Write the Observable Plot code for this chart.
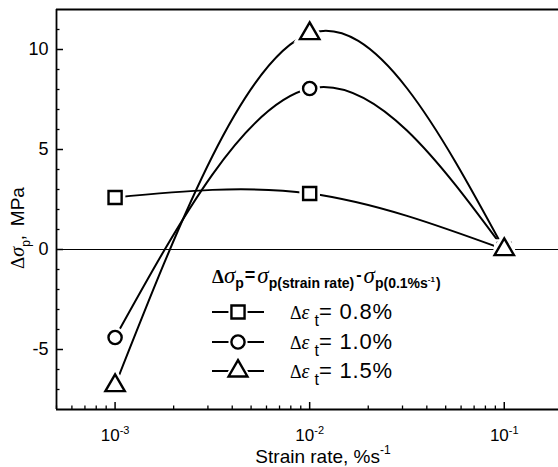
<!DOCTYPE html>
<html><head><meta charset="utf-8">
<script src="https://cdn.jsdelivr.net/npm/d3@7"></script>
<script src="https://cdn.jsdelivr.net/npm/@observablehq/plot@0.6"></script>
<style>
body{margin:0;background:#fff;overflow:hidden}
#chart{position:relative;width:558px;height:467px}
</style></head><body><div id="chart"></div>
<script>
// ---- data ----
const strainRate = [0.001, 0.01, 0.1];
const seriesNames = ["0.8%", "1.0%", "1.5%"];
const seriesSymbols = ["square", "circle", "triangle"];
const dSigma08 = [2.6, 2.8, 0.0];
const dSigma10 = [-4.4, 8.05, 0.0];
const dSigma15 = [-6.8, 10.8, 0.0];
const xDomain = [0.0005, 0.19];
const yDomain = [-8, 12];
const xMajor = [0.001, 0.01, 0.1];
const xMajorLabels = ["-3", "-2", "-1"];
const xMinor = [0.0005, 0.0006, 0.0007, 0.0008, 0.0009,
  0.002, 0.003, 0.004, 0.005, 0.006, 0.007, 0.008, 0.009,
  0.02, 0.03, 0.04, 0.05, 0.06, 0.07, 0.08, 0.09];
const yMajor = [-5, 0, 5, 10];
const yMinor = [-7, -6, -4, -3, -2, -1, 1, 2, 3, 4, 6, 7, 8, 9, 11];

const valuesBySeries = [dSigma08, dSigma10, dSigma15];
const rows = seriesNames.flatMap((s, j) => strainRate.map((x, i) => ({series: s, x, y: valuesBySeries[j][i]})));
const markerR = {"0.8%": 7.4, "1.0%": 6.6, "1.5%": 7.2};

const SANS = "Liberation Sans, Arial, sans-serif";
const SERIF = "Liberation Serif, Times New Roman, serif";

const dotMarks = seriesNames.flatMap(s => [
  Plot.dot(rows.filter(d => d.series === s), {x: "x", y: "y", symbol: "series", r: markerR[s], fill: "#fff", stroke: "#fff", strokeWidth: 7.5}),
  Plot.dot(rows.filter(d => d.series === s), {x: "x", y: "y", symbol: "series", r: markerR[s], fill: "#fff", stroke: "#000", strokeWidth: 2.4})
]);

const plot = Plot.plot({
  width: 558, height: 467,
  marginLeft: 56, marginRight: 0, marginTop: 9, marginBottom: 58,
  style: {fontFamily: SANS, fontSize: "17px", color: "#000", background: "#fff"},
  x: {type: "log", domain: xDomain},
  y: {domain: yDomain},
  symbol: {domain: seriesNames, range: seriesSymbols},
  marks: [
    Plot.ruleY([0], {stroke: "#000", strokeWidth: 1.2}),
    Plot.line(rows, {x: "x", y: "y", z: "series", curve: "natural", stroke: "#000", strokeWidth: 2}),
    ...dotMarks,
    Plot.ruleY([yDomain[1]], {stroke: "#000", strokeWidth: 1.8}),
    Plot.ruleY([yDomain[0]], {stroke: "#000", strokeWidth: 1.8}),
    Plot.ruleX([xDomain[0]], {stroke: "#000", strokeWidth: 1.8}),
    Plot.axisX({ticks: xMinor, tickSize: -3.5, fill: "none", tickFormat: () => "", label: null, strokeWidth: 1.3}),
    Plot.axisX({ticks: xMajor, tickSize: -7, fill: "none", tickFormat: () => "", label: null, strokeWidth: 1.5}),
    Plot.axisX({ticks: xMajor, tickSize: 0, tickPadding: 19, tickFormat: d => "10|" + xMajorLabels[xMajor.indexOf(d)], label: null, fontSize: 17}),
    Plot.axisY({ticks: yMinor, tickSize: -3.5, fill: "none", tickFormat: () => "", label: null, strokeWidth: 1.3}),
    Plot.axisY({ticks: yMajor, tickSize: -7, fill: "none", tickFormat: () => "", label: null, strokeWidth: 1.5}),
    Plot.axisY({ticks: yMajor, tickSize: 0, tickPadding: 8, tickFormat: d => String(d), label: null, fontSize: 18})
  ]
});
document.getElementById("chart").appendChild(plot);

const svg = d3.select(plot);

// superscripts in x tick labels
svg.selectAll('g[aria-label="x-axis tick label"] text').each(function() {
  const parts = this.textContent.split("|");
  const t = d3.select(this);
  t.text(null);
  t.append("tspan").text(parts[0]);
  t.append("tspan").text(parts[1]).attr("font-size", 11).attr("dy", "-0.6em");
});

function richText(parent, x, y, segs, attrs = {}) {
  const t = parent.append("text").attr("x", x).attr("y", y).attr("fill", "#000").attr("text-anchor", "start");
  for (const k in attrs) t.attr(k, attrs[k]);
  let cur = 0;
  for (const s of segs) {
    const off = -(s.shift || 0);
    const ts = t.append("tspan").text(s.t)
      .attr("dy", off - cur)
      .attr("font-family", s.f || SANS)
      .attr("font-size", s.s || 16)
      .attr("font-weight", s.w || "normal")
      .attr("font-style", s.i ? "italic" : "normal");
    if (s.dx) ts.attr("dx", s.dx);
    if (s.ls) ts.attr("letter-spacing", s.ls);
    cur = off;
  }
  return t;
}

// axis titles
richText(svg, 323, 463, [
  {t: "Strain rate, %s", s: 19},
  {t: "-1", s: 12, shift: 9}
], {"text-anchor": "middle"});

richText(svg, 0, 0, [
  {t: "Δ", f: SERIF, s: 19},
  {t: "σ", f: SERIF, s: 20, i: true},
  {t: "p", s: 12, shift: -6},
  {t: ",", s: 18},
  {t: "MPa", s: 19, dx: 9}
], {"text-anchor": "middle", transform: "translate(24,228) rotate(-90)"});

// legend
const lg = svg.append("g");
richText(lg, 212, 283, [
  {t: "Δ", f: SERIF, s: 19, w: "bold"},
  {t: "σ", f: SERIF, s: 23, i: true},
  {t: "p", s: 14, w: "bold", shift: -5},
  {t: "=", s: 18, w: "bold", shift: 2, dx: 1},
  {t: "σ", f: SERIF, s: 23, i: true, dx: 2},
  {t: "p(strain rate)", s: 14, w: "bold", shift: -5},
  {t: "-", s: 16, w: "bold", shift: 3, dx: 2},
  {t: "σ", f: SERIF, s: 23, i: true, dx: 2},
  {t: "p(0.1%s", s: 14, w: "bold", shift: -5},
  {t: "-1", s: 8, w: "bold", shift: 1},
  {t: ")", s: 14, w: "bold", shift: -5, dx: 1}
]);

const legendRows = [
  {name: seriesNames[0], sym: d3.symbolSquare, r: 7.4, y: 312},
  {name: seriesNames[1], sym: d3.symbolCircle, r: 6.6, y: 342},
  {name: seriesNames[2], sym: d3.symbolTriangle, r: 7.0, y: 371}
];
for (const row of legendRows) {
  lg.append("line").attr("x1", 212).attr("x2", 264).attr("y1", row.y).attr("y2", row.y)
    .attr("stroke", "#000").attr("stroke-width", 2);
  const p = d3.symbol(row.sym, Math.PI * row.r * row.r)();
  lg.append("path").attr("d", p).attr("transform", `translate(238,${row.y})`)
    .attr("fill", "#fff").attr("stroke", "#fff").attr("stroke-width", 6);
  lg.append("path").attr("d", p).attr("transform", `translate(238,${row.y})`)
    .attr("fill", "#fff").attr("stroke", "#000").attr("stroke-width", 2.4);
  richText(lg, 290, row.y + 7, [
    {t: "Δ", f: SERIF, s: 18},
    {t: "ε", f: SERIF, s: 20, i: true},
    {t: "t", s: 16, shift: -7, dx: 5},
    {t: "= " + row.name, s: 22, shift: 0, ls: 0.8}
  ]);
}
</script>
</body></html>
